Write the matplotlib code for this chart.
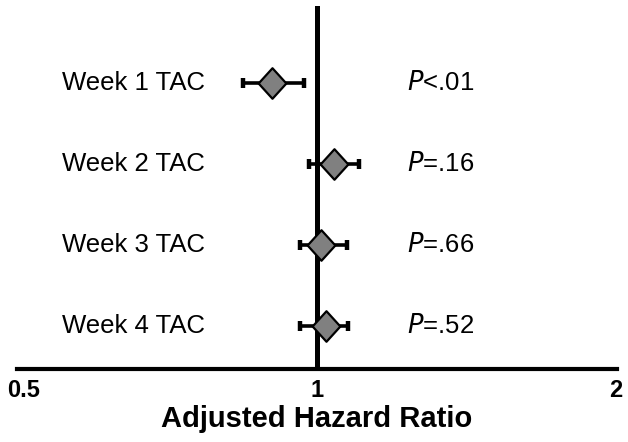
import matplotlib
matplotlib.use("Agg")
import matplotlib.pyplot as plt
from matplotlib.path import Path

plt.rcParams["font.family"] = ["Liberation Sans", "DejaVu Sans"]

# data
labels = ["Week 1 TAC", "Week 2 TAC", "Week 3 TAC", "Week 4 TAC"]
hr = [0.902, 1.039, 1.010, 1.022]
ci_low = [0.843, 0.981, 0.961, 0.961]
ci_high = [0.971, 1.101, 1.072, 1.075]
p_sign = ["<", "=", "=", "="]
p_vals = [".01", ".16", ".66", ".52"]
xticks = [0.5, 1, 2]
xtick_labels = ["0.5", "1", "2"]

W, H = 628, 442
fig = plt.figure(figsize=(W / 100, H / 100), dpi=100)
ax = fig.add_axes([17 / W, 1 - 369 / H, 600 / W, (369 - 6) / H])

ax.set_xscale("log")
ax.set_xlim(0.5, 2)
ax.set_ylim(0.469, 4.95)

ax.axvline(1, color="black", linewidth=3.6, zorder=1)

ys = [len(labels) - i for i in range(len(labels))]
err = [[h - lo for h, lo in zip(hr, ci_low)], [hi - h for h, hi in zip(hr, ci_high)]]
ax.errorbar(hr, ys, xerr=err, fmt="none", ecolor="black", elinewidth=2.6,
            capsize=3.8, capthick=3.2, zorder=2)

diamond = Path([(0, 1.1), (1, 0), (0, -1.1), (-1, 0), (0, 1.1)],
               [Path.MOVETO, Path.LINETO, Path.LINETO, Path.LINETO, Path.CLOSEPOLY])
ax.plot(hr, ys, linestyle="none", marker=diamond, markersize=22,
        markerfacecolor="#808080", markeredgecolor="black", markeredgewidth=1.6, zorder=3)

for y, lab, s, p in zip(ys, labels, p_sign, p_vals):
    ax.text((62 - 17) / 600, y, lab, transform=ax.get_yaxis_transform(),
            fontsize=18.5, va="center", ha="left")
    ax.text((407 - 17) / 600, y, r"$\it{P}$" + s + p, transform=ax.get_yaxis_transform(),
            fontsize=18.5, va="center", ha="left")

for sp in ["top", "right", "left"]:
    ax.spines[sp].set_visible(False)
ax.spines["bottom"].set_linewidth(3)
ax.set_xticks([])
ax.set_xticks([], minor=True)
ax.set_yticks([])

offsets = [5, 0, -1]
for x, t, dx in zip(xticks, xtick_labels, offsets):
    ax.annotate(t, xy=(x, 0), xycoords=("data", "axes fraction"),
                xytext=(dx, -7), textcoords="offset points",
                ha="center", va="top", fontsize=17, fontweight="bold")

fig.text(317 / W, 1 - 419 / H, "Adjusted Hazard Ratio", ha="center", va="center",
         fontsize=21, fontweight="bold")

fig.savefig("out.png", dpi=100)
